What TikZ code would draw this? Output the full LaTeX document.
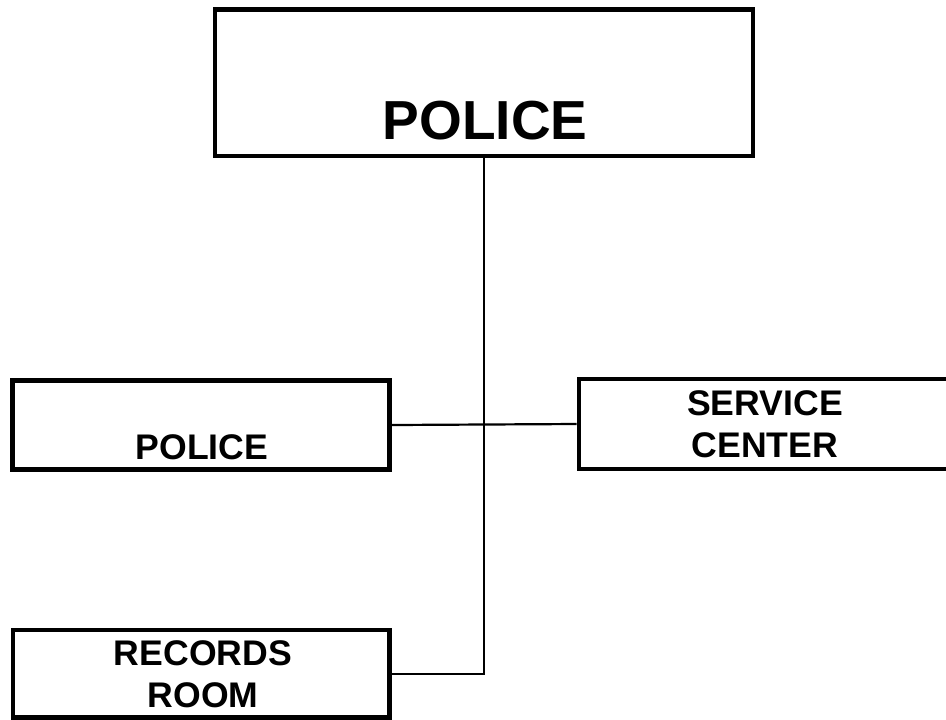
\documentclass[tikz,border=0pt]{standalone}
\usepackage{fontspec}
\setmainfont{Liberation Sans}
\usepackage{tikz}

\begin{document}
\begin{tikzpicture}[x=.5pt,y=-.5pt,
    unit/.style={draw,line width=2.4pt,inner sep=0pt},
    link/.style={line width=1.1pt},
    big/.style={font=\fontsize{27.5}{33}\selectfont\bfseries},
    small/.style={font=\fontsize{17.8}{21}\selectfont\bfseries,align=center}]
      \useasboundingbox (0,0) rectangle (946,719);
      \node[unit,minimum width=269pt,minimum height=73.25pt] (chief) at (484,82.75) {};
      \node[unit,minimum width=188.5pt,minimum height=44.5pt] (patrol) at (201,425) {};
      \node[unit,minimum width=210.5pt,minimum height=45pt] (service) at (789.5,424) {};
      \node[unit,minimum width=188.25pt,minimum height=43.75pt] (records) at (201.25,673.75) {};
      \node[big,anchor=base] (chieftext) at (485,139) {POLICE};
      \node[small,anchor=base] (patroltext) at (202,459) {POLICE};
      \node[small] (servicetext) at (765,424) {SERVICE\\CENTER};
      \node[small] (recordstext) at (203,674) {RECORDS\\ROOM};
      \draw[link] (chief.south) |- (records.east);
      \draw[link] (patrol.east) -- (service.west);
    \end{tikzpicture}
\end{document}
